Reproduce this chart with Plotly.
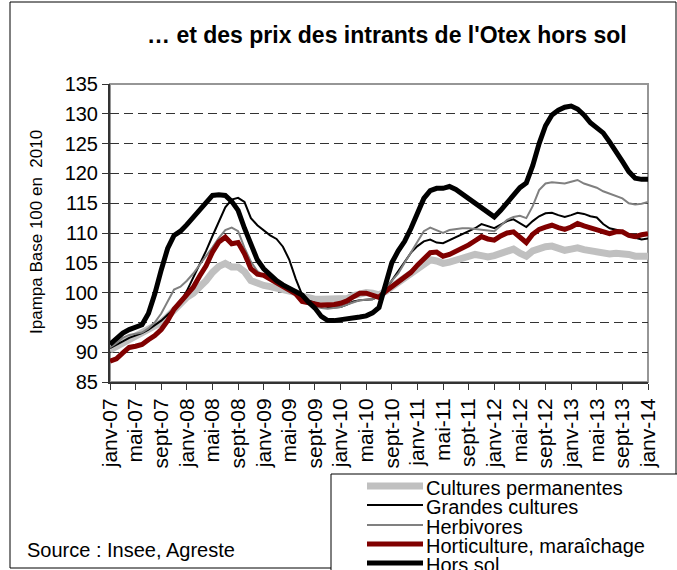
import plotly.graph_objects as go

# ---------------- data ----------------
month_index = list(range(85))  # janv-07 .. janv-14, monthly
tick_labels = ["janv-07", "mai-07", "sept-07", "janv-08", "mai-08", "sept-08",
               "janv-09", "mai-09", "sept-09", "janv-10", "mai-10", "sept-10",
               "janv-11", "mai-11", "sept-11", "janv-12", "mai-12", "sept-12",
               "janv-13", "mai-13", "sept-13", "janv-14"]
tick_positions = list(range(0, 85, 4))

cultures_permanentes = [
    90.4, 91.0, 91.6, 92.1, 92.6, 93.2, 93.8, 94.3, 95.0, 96.0,
    97.2, 98.2, 99.2, 99.9, 100.9, 102.0, 103.4, 104.4, 104.9, 104.3,
    104.3, 103.5, 102.0, 101.5, 101.2, 101.0, 100.8, 100.4, 100.2, 100.0,
    99.4, 99.0, 98.9, 98.9, 98.9, 98.8, 98.8, 99.0, 99.5, 99.9,
    100.0, 99.9, 99.6, 100.2, 101.0, 101.6, 102.4, 103.1, 103.9, 104.7,
    105.5, 105.3, 104.9, 105.1, 105.4, 105.8, 106.1, 106.4, 106.2, 106.0,
    106.2, 106.6, 107.0, 107.3, 106.6, 106.1, 107.0, 107.5, 107.7, 107.8,
    107.4, 107.1, 107.3, 107.5, 107.2, 107.0, 106.8, 106.6, 106.5, 106.6,
    106.6, 106.4, 106.1, 106.1, 106.1]

grandes_cultures = [
    90.7, 91.2, 91.8, 92.4, 92.8, 93.2, 93.8, 94.5, 95.3, 96.3,
    97.3, 98.3, 100.3, 102.5, 104.8, 107.0, 109.5, 112.0, 114.3, 115.6,
    115.9, 115.2, 112.5, 111.3, 110.5, 109.6, 109.0, 107.7, 105.5, 102.3,
    99.6, 98.7, 98.3, 97.9, 97.6, 97.5, 97.6, 98.0, 98.5, 98.7,
    98.8, 98.9, 99.4, 100.6, 102.0, 103.6, 105.0, 106.7, 107.8, 108.6,
    108.9, 108.4, 108.3, 108.8, 109.2, 109.7, 110.2, 110.8, 111.5, 111.1,
    110.8, 111.4, 112.0, 112.3, 111.6, 111.0, 112.0, 112.8, 113.3, 113.4,
    113.0, 112.7, 113.0, 113.4, 113.2, 112.8, 112.6, 111.5, 110.8, 110.5,
    110.3, 109.5, 109.2, 108.9, 109.1]

herbivores = [
    90.8, 91.5, 92.4, 92.9, 93.1, 93.3, 94.0, 95.0, 96.5, 98.5,
    100.5, 101.0, 102.0, 103.2, 104.6, 106.0, 107.6, 109.2, 110.5, 110.9,
    110.3, 107.5, 105.2, 103.6, 102.8, 102.4, 101.8, 101.3, 100.9, 100.3,
    99.4, 98.4, 97.7, 97.4, 97.3, 97.4, 97.6, 98.0, 98.4, 98.7,
    98.8, 98.9, 99.5, 100.7, 102.0, 103.2, 105.0, 106.8, 108.5, 110.3,
    110.9, 110.5, 110.0, 110.5, 110.7, 110.8, 110.8, 110.7, 110.6, 110.4,
    110.3, 111.2, 112.2, 112.7, 112.9, 112.5, 114.5, 117.2, 118.3, 118.5,
    118.4, 118.3, 118.6, 118.9, 118.3, 117.9, 117.6, 117.0, 116.6, 116.2,
    115.8, 115.0, 114.8, 114.9, 115.2]

horticulture = [
    88.5, 88.9, 89.9, 90.8, 91.0, 91.3, 92.1, 92.8, 93.8, 95.3,
    97.2, 98.4, 99.6, 100.9, 102.8, 104.5, 106.8, 108.5, 109.3, 108.2,
    108.4, 106.5, 104.0, 103.1, 102.9, 102.3, 101.6, 101.0, 100.4, 99.8,
    98.5, 98.2, 98.1, 97.9, 97.9, 98.0, 98.2, 98.6, 99.3, 99.9,
    99.9, 99.5, 99.2, 100.2, 101.0, 101.7, 102.5, 103.4, 104.6, 105.6,
    106.7, 106.8, 106.1, 106.4, 106.9, 107.3, 108.0, 108.7, 109.4, 109.0,
    108.8, 109.5, 110.0, 110.2, 109.2, 108.4, 109.8, 110.6, 111.0, 111.3,
    110.9, 110.6, 111.0, 111.6, 111.2, 110.9, 110.6, 110.1, 109.9, 110.2,
    110.2, 109.6, 109.4, 109.7, 109.9]

hors_sol = [
    91.3, 92.2, 93.2, 93.8, 94.1, 94.6, 96.5, 99.8, 103.8, 107.4,
    109.6, 110.3, 111.4, 112.7, 114.0, 115.3, 116.3, 116.4, 116.3, 115.3,
    113.8, 110.8, 108.0, 105.5, 104.0, 102.9, 102.0, 101.3, 100.8, 100.3,
    99.6, 98.4, 97.4, 96.0, 95.3, 95.3, 95.4, 95.5, 95.7, 95.9,
    96.1, 96.6, 97.5, 101.5, 105.0, 107.0, 108.6, 110.8, 113.5, 115.8,
    117.1, 117.5, 117.5, 117.8, 117.3, 116.5, 115.8, 115.0, 114.2, 113.3,
    112.7, 113.8, 115.0, 116.5, 117.6, 118.4, 121.3, 125.0, 128.0, 129.8,
    130.6, 131.1, 131.3, 130.8, 129.8, 128.5, 127.6, 126.8, 125.3, 123.8,
    122.0, 120.3, 119.2, 119.0, 119.0]

series_names = ["Cultures permanentes", "Grandes cultures", "Herbivores",
                "Horticulture, maraîchage", "Hors sol"]
series_values = [cultures_permanentes, grandes_cultures, herbivores,
                 horticulture, hors_sol]

# ---------------- styles ----------------
series_colors = ["#C0C0C0", "#000000", "#808080", "#800000", "#000000"]
series_widths = [7, 2, 2, 5, 5]
FONT = "Liberation Sans, Arial, sans-serif"

W, H = 677, 570
L, R, T, B = 110, 648, 84, 382  # plot area in pixels


def px(x):
    return (x - L) / (R - L)


def py(y):
    return (B - y) / (B - T)


fig = go.Figure()
for name, vals, col, w in zip(series_names, series_values, series_colors, series_widths):
    fig.add_trace(go.Scatter(x=month_index, y=vals, mode="lines", name=name,
                             line=dict(color=col, width=w), showlegend=False,
                             hoverinfo="skip"))

shapes = []
annotations = []

# outer frame
shapes.append(dict(type="rect", xref="paper", yref="paper",
                   x0=px(10), x1=px(676), y0=py(568), y1=py(2),
                   line=dict(color="#000000", width=1), layer="below"))
# plot area border (top/right grey)
shapes.append(dict(type="rect", xref="paper", yref="paper",
                   x0=0, x1=1, y0=0, y1=1,
                   line=dict(color="#969696", width=2), layer="below"))

# legend box
shapes.append(dict(type="rect", xref="paper", yref="paper",
                   x0=px(331), x1=px(700), y0=py(600), y1=py(474),
                   line=dict(color="#000000", width=1), fillcolor="white", layer="above"))
row_y = [486, 505, 525, 544, 563]
for name, col, w, yy in zip(series_names, series_colors, series_widths, row_y):
    shapes.append(dict(type="line", xref="paper", yref="paper",
                       x0=px(367), x1=px(423), y0=py(yy), y1=py(yy),
                       line=dict(color=col, width=w), layer="above"))
    annotations.append(dict(text=name, xref="paper", yref="paper",
                            x=px(424), y=py(yy + 2), xanchor="left", yanchor="middle",
                            showarrow=False, font=dict(family=FONT, size=20, color="black")))

# title
annotations.append(dict(text="<b>… et des prix des intrants de l'Otex hors sol</b>",
                        xref="paper", yref="paper", x=px(387), y=py(35),
                        xanchor="center", yanchor="middle", showarrow=False,
                        font=dict(family=FONT, size=23, color="black")))
# y-axis title
annotations.append(dict(text="Ipampa Base 100 en  2010", xref="paper", yref="paper",
                        x=px(37), y=py(232), textangle=-90, xanchor="center",
                        yanchor="middle", showarrow=False,
                        font=dict(family=FONT, size=17, color="black")))
# source
annotations.append(dict(text="Source : Insee, Agreste", xref="paper", yref="paper",
                        x=px(25), y=py(550), xanchor="left", yanchor="middle",
                        showarrow=False, font=dict(family=FONT, size=20, color="black")))

fig.update_layout(
    width=W, height=H,
    margin=dict(l=L, r=W - R, t=T, b=H - B, pad=0),
    paper_bgcolor="white", plot_bgcolor="white",
    shapes=shapes, annotations=annotations,
    showlegend=False, hovermode=False,
    xaxis=dict(range=[0, 84], tickmode="array", tickvals=tick_positions,
               ticktext=tick_labels, tickangle=-90, ticks="outside", ticklen=6,
               tickcolor="#333333", showgrid=False, zeroline=False,
               showline=True, linecolor="#333333", linewidth=2,
               tickfont=dict(family=FONT, size=21, color="black")),
    yaxis=dict(range=[85, 135], dtick=5, tick0=85, ticks="outside", ticklen=6,
               tickcolor="#333333", showgrid=True, gridcolor="#333333",
               griddash="9px,5px", gridwidth=1, zeroline=False,
               showline=True, linecolor="#333333", linewidth=2,
               tickfont=dict(family=FONT, size=20, color="black")),
)

fig.write_html("out.html", config={"displayModeBar": False},
               post_script="document.body.style.margin='0';")
